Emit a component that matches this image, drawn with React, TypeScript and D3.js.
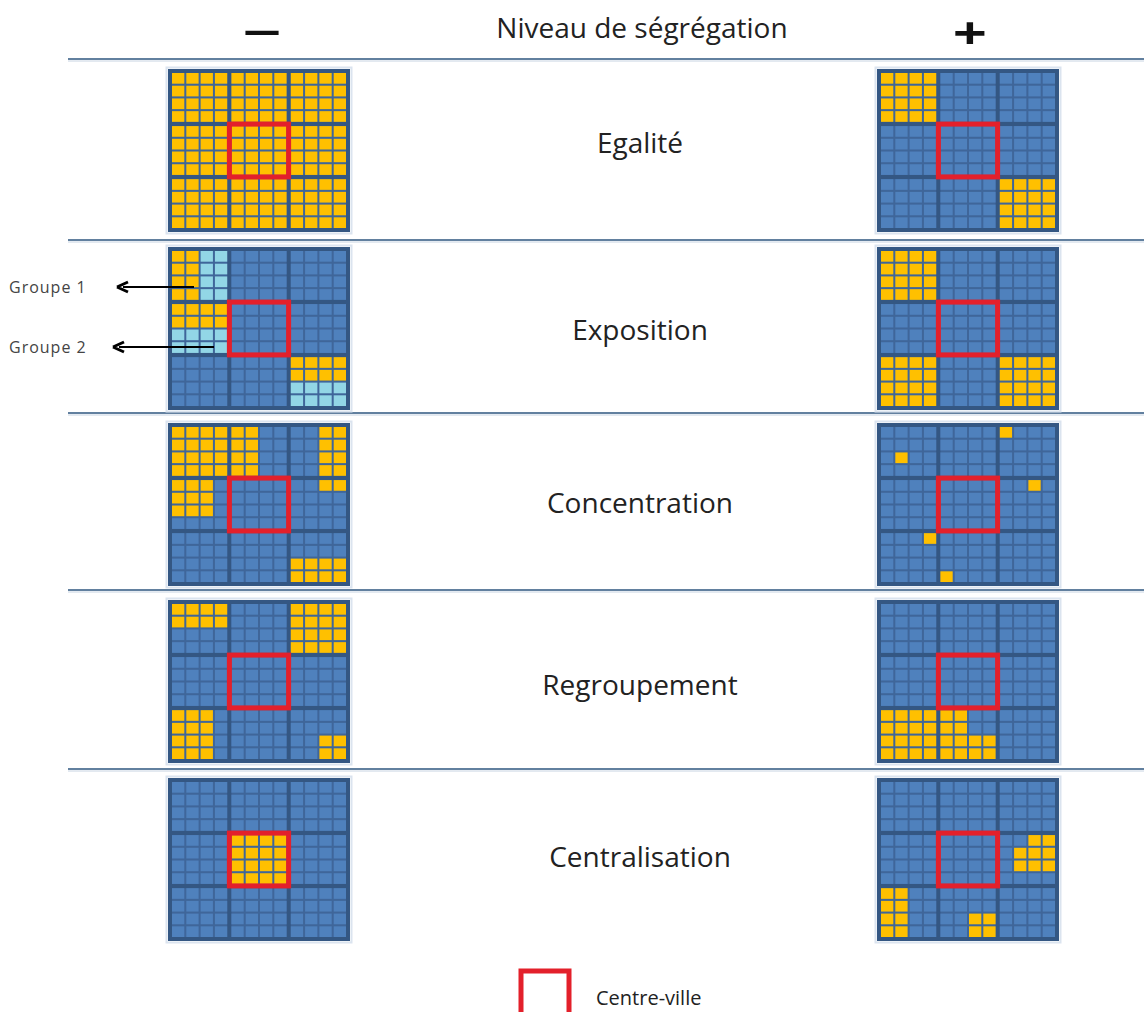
import * as React from 'react';
import * as d3 from 'd3';

// [ligne, colonne, hauteur, largeur] en cellules sur une grille 12x12
type Patch = [number, number, number, number];

const ROW_LABELS = ['Egalité', 'Exposition', 'Concentration', 'Regroupement', 'Centralisation'];
const ROW_TOPS = [69, 247, 423, 600, 778];
const LABEL_Y = [143, 330, 503, 685, 857];
const SEPARATORS = [59, 240, 413, 590, 769];

const egaliteMoins: Patch[] = [[0, 0, 12, 12]];
const egalitePlus: Patch[] = [[0, 0, 4, 4], [8, 8, 4, 4]];
const expositionMoins: Patch[] = [[0, 0, 4, 2], [4, 0, 2, 4], [8, 8, 2, 4]];
const expositionMoinsGroupe2: Patch[] = [[0, 2, 4, 2], [6, 0, 2, 4], [10, 8, 2, 4]];
const expositionPlus: Patch[] = [[0, 0, 4, 4], [8, 0, 4, 4], [8, 8, 4, 4]];
const concentrationMoins: Patch[] = [[0, 0, 4, 4], [0, 4, 4, 2], [0, 10, 4, 2], [4, 0, 3, 3], [4, 10, 1, 2], [10, 8, 2, 4]];
const concentrationPlus: Patch[] = [[0, 8, 1, 1], [2, 1, 1, 1], [4, 10, 1, 1], [8, 3, 1, 1], [11, 4, 1, 1]];
const regroupementMoins: Patch[] = [[0, 0, 2, 4], [0, 8, 4, 4], [8, 0, 4, 3], [10, 10, 2, 2]];
const regroupementPlus: Patch[] = [[8, 0, 4, 4], [8, 4, 4, 2], [10, 6, 2, 2]];
const centralisationMoins: Patch[] = [[4, 4, 4, 4]];
const centralisationPlus: Patch[] = [[4, 10, 1, 2], [5, 9, 2, 3], [8, 0, 4, 2], [10, 6, 2, 2]];

const LEFT_YELLOW = [egaliteMoins, expositionMoins, concentrationMoins, regroupementMoins, centralisationMoins];
const LEFT_CYAN: Patch[][] = [[], expositionMoinsGroupe2, [], [], []];
const RIGHT_YELLOW = [egalitePlus, expositionPlus, concentrationPlus, regroupementPlus, centralisationPlus];

const COLORS = {
  border: '#345783',
  gap: '#3f669a',
  cell: '#4f81bd',
  yellow: '#ffc000',
  cyan: '#92d6e6',
  red: '#e3202b',
  rule: '#62809f',
  text: '#222',
};

const FONT = '"Open Sans", "Noto Sans", sans-serif';
const GRID_W = 182;
const GRID_H = 163;
const BORDER = 4;

const blockX = d3.scaleBand<number>().domain([0, 1, 2]).range([BORDER, GRID_W - BORDER]).paddingInner(0.07);
const blockY = d3.scaleBand<number>().domain([0, 1, 2]).range([BORDER, GRID_H - BORDER]).paddingInner(0.08);
const cellX = d3.scaleBand<number>().domain([0, 1, 2, 3]).range([0, blockX.bandwidth()]).paddingInner(0.14);
const cellY = d3.scaleBand<number>().domain([0, 1, 2, 3]).range([0, blockY.bandwidth()]).paddingInner(0.16);

const colX = (c: number) => (blockX(Math.floor(c / 4)) ?? 0) + (cellX(c % 4) ?? 0);
const rowY = (r: number) => (blockY(Math.floor(r / 4)) ?? 0) + (cellY(r % 4) ?? 0);

function colorAt(r: number, c: number, yellow: Patch[], cyan: Patch[]) {
  const inside = (p: Patch) => r >= p[0] && r < p[0] + p[2] && c >= p[1] && c < p[1] + p[3];
  if (yellow.some(inside)) return COLORS.yellow;
  if (cyan.some(inside)) return COLORS.cyan;
  return COLORS.cell;
}

function Grid({ x, y, yellow, cyan = [] }: { x: number; y: number; yellow: Patch[]; cyan?: Patch[] }) {
  const cells = d3.range(144).map((i) => ({ r: Math.floor(i / 12), c: i % 12 }));
  const mx = blockX(1) ?? 0;
  const my = blockY(1) ?? 0;
  return (
    <g transform={`translate(${x},${y})`}>
      <rect x={-1.5} y={-1.5} width={GRID_W + 3} height={GRID_H + 3} fill="none" stroke="#dbe4ef" strokeWidth={2} />
      <rect width={GRID_W} height={GRID_H} fill={COLORS.border} />
      {[0, 1, 2].flatMap((by) =>
        [0, 1, 2].map((bx) => (
          <rect
            key={`b${by}${bx}`}
            x={blockX(bx)}
            y={blockY(by)}
            width={blockX.bandwidth()}
            height={blockY.bandwidth()}
            fill={COLORS.gap}
          />
        ))
      )}
      {cells.map(({ r, c }) => (
        <rect
          key={`${r}-${c}`}
          x={colX(c)}
          y={rowY(r)}
          width={cellX.bandwidth()}
          height={cellY.bandwidth()}
          fill={colorAt(r, c, yellow, cyan)}
        />
      ))}
      <rect
        x={mx - 2}
        y={my - 2}
        width={blockX.bandwidth() + 4}
        height={blockY.bandwidth() + 4}
        fill="none"
        stroke={COLORS.red}
        strokeWidth={5}
      />
    </g>
  );
}

function Arrow({ x1, x2, y }: { x1: number; x2: number; y: number }) {
  return (
    <g>
      <line x1={x1} x2={x2 + 6} y1={y} y2={y} stroke="#000" strokeWidth={2} />
      <path d={`M${x2},${y} L${x2 + 11},${y - 5} M${x2},${y} L${x2 + 11},${y + 5}`} stroke="#000" strokeWidth={3} fill="none" />
    </g>
  );
}

export default function App() {
  const width = 1144;
  const height = 1012;
  return (
    <div style={{ position: 'absolute', left: 0, top: 0 }}>
      <svg width={width} height={height} style={{ display: 'block', background: '#fff' }}>
        <text transform="translate(262,46) scale(1.8,1)" textAnchor="middle" fontFamily={FONT} fontSize={38} fontWeight={700} fill="#111">−</text>
        <text x={642} y={38} textAnchor="middle" fontFamily={FONT} fontSize={28} fill={COLORS.text}>Niveau de ségrégation</text>
        <text transform="translate(970,49) scale(1.5,1.1)" textAnchor="middle" fontFamily={FONT} fontSize={40} fontWeight={700} fill="#111">+</text>

        {SEPARATORS.map((sy) => (
          <g key={sy}>
            <line x1={68} x2={width} y1={sy} y2={sy} stroke={COLORS.rule} strokeWidth={2} />
            <line x1={68} x2={width} y1={sy + 2} y2={sy + 2} stroke="#c8d4e2" strokeWidth={1} />
          </g>
        ))}

        {ROW_LABELS.map((label, i) => (
          <g key={label}>
            <Grid x={168} y={ROW_TOPS[i]} yellow={LEFT_YELLOW[i]} cyan={LEFT_CYAN[i]} />
            <Grid x={877} y={ROW_TOPS[i]} yellow={RIGHT_YELLOW[i]} />
            <text
              x={640}
              y={LABEL_Y[i]}
              dy="0.35em"
              textAnchor="middle"
              fontFamily={FONT}
              fontSize={28}
              fill={COLORS.text}
            >
              {label}
            </text>
          </g>
        ))}

        <text x={9} y={293} fontFamily={FONT} fontSize={16} letterSpacing={1} fill="#444">Groupe 1</text>
        <Arrow x1={194} x2={117} y={287} />
        <text x={9} y={353} fontFamily={FONT} fontSize={16} letterSpacing={1} fill="#444">Groupe 2</text>
        <Arrow x1={214} x2={113} y={347} />

        <rect x={521} y={971} width={48} height={48} fill="none" stroke={COLORS.red} strokeWidth={5} />
        <text x={596} y={1005} fontFamily={FONT} fontSize={20} fill={COLORS.text}>Centre-ville</text>
      </svg>
    </div>
  );
}
